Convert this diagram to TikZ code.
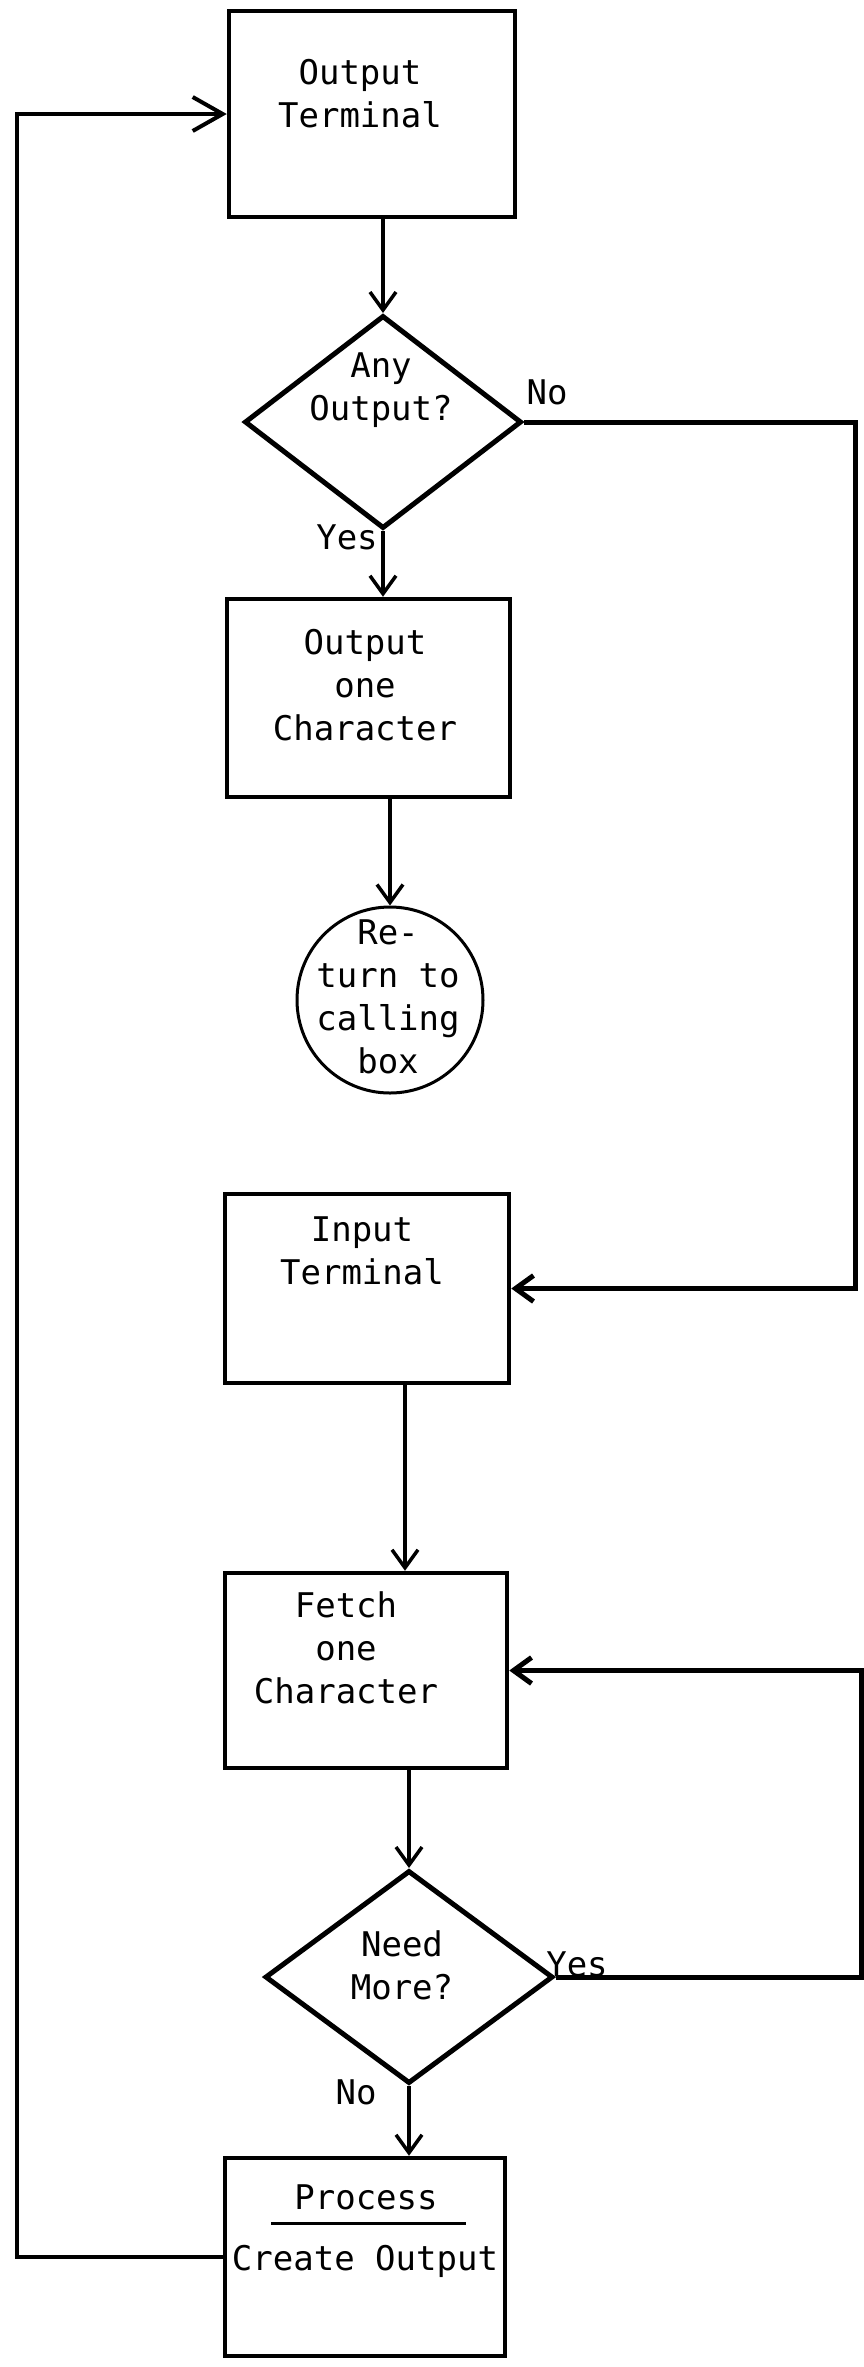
\documentclass[tikz,border=0pt]{standalone}
\usepackage{fontspec}
\newfontfamily\plotfont{DejaVu Sans Mono}
\usetikzlibrary{shapes.geometric,arrows.meta}
\begin{document}
\begin{tikzpicture}[x=1pt,y=-1pt,
  every node/.style={font=\plotfont\fontsize{34}{43}\selectfont},
  boxnode/.style={draw, rectangle, line width=4.5pt, inner sep=0pt},
  decision/.style={draw, diamond, line width=5pt, inner sep=0pt},
  endcircle/.style={draw, circle, line width=3pt, inner sep=0pt},
  txt/.style={align=center, inner sep=0pt},
  conn/.style={line width=3.5pt, -{Straight Barb[length=18pt,width=26pt]}},
  bigconn/.style={line width=4pt, -{Straight Barb[length=30pt,width=34pt]}},
  heavy/.style={line width=5pt}]
\path[use as bounding box] (0,0) rectangle (863,2367);

% shapes
\node[boxnode, minimum width=286pt, minimum height=206pt] (box1) at (372,114) {};
\node[decision, minimum width=277pt, minimum height=213pt] (d1) at (383,422) {};
\node[boxnode, minimum width=283pt, minimum height=198pt] (box2) at (368.5,698) {};
\node[endcircle, minimum size=186pt] (ret) at (390,1000) {};
\node[boxnode, minimum width=284pt, minimum height=189pt] (input) at (367,1288.5) {};
\node[boxnode, minimum width=282pt, minimum height=195pt] (fetch) at (366,1670.5) {};
\node[decision, minimum width=288pt, minimum height=213pt] (d2) at (409,1977) {};
\node[boxnode, minimum width=280pt, minimum height=198pt] (proc) at (365,2257) {};

% texts
\node[txt] (t1) at (360,94) {Output\\Terminal};
\node[txt] (td1) at (381,390) {Any\\Output?};
\node[txt] (t2) at (365,685) {Output\\one\\Character};
\node[txt] (tret) at (388,997) {Re-\\turn to\\calling\\box};
\node[txt] (tin) at (362,1251) {Input\\Terminal};
\node[txt] (tf) at (346,1648) {Fetch\\one\\Character};
\node[txt] (td2) at (402,1965) {Need\\More?};
\node[txt] (tp1) at (366,2197) {Process};
\node[txt] (tp2) at (365,2261) {Create Output};
\draw[line width=3pt] (271,2223) -- (466,2223);

% labels
\node[txt] (lno1) at (547,392) {No};
\node[txt] (lyes1) at (347,537) {Yes};
\node[txt] (lyes2) at (577,1964) {Yes};
\node[txt] (lno2) at (356,2092) {No};

% connectors
\coordinate (rx1) at (855,0);
\coordinate (rx2) at (861,0);
\coordinate (lx) at (17,0);
\coordinate (a5) at ([xshift=38pt]input.south);

\draw[conn] (d1.north |- box1.south) -- (d1.north);
\draw[conn] (d1.south) -- (d1.south |- box2.north);
\draw[conn, heavy] (d1.east) -| (rx1 |- input.east) -- (input.east);
\draw[conn] (ret.north |- box2.south) -- (ret.north);
\draw[conn] (a5) -- (a5 |- fetch.north);
\draw[conn] (d2.north |- fetch.south) -- (d2.north);
\draw[conn, heavy] (d2.east) -| (rx2 |- fetch.east) -- (fetch.east);
\draw[conn] (d2.south) -- (d2.south |- proc.north);
\draw[bigconn] (proc.west) -| (lx |- box1.west) -- (box1.west);
\end{tikzpicture}
\end{document}
